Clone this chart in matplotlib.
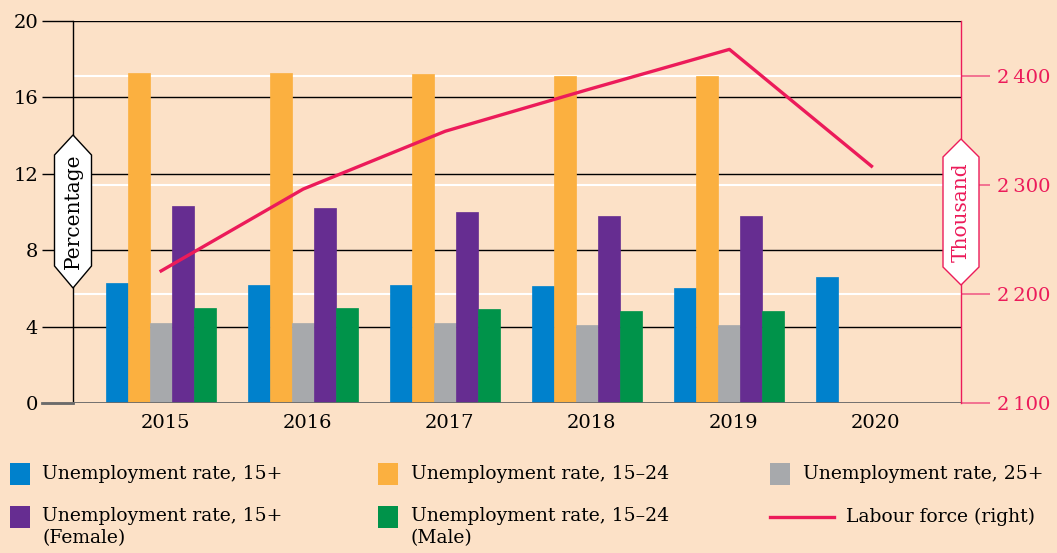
import matplotlib
matplotlib.use('Agg')
import matplotlib.pyplot as plt
import numpy as np
from matplotlib.patches import Polygon, Rectangle
from matplotlib.lines import Line2D

# data
years = ['2015', '2016', '2017', '2018', '2019', '2020']
rate_15 = [6.3, 6.2, 6.2, 6.1, 6.0, 6.6]
rate_15_24 = [17.3, 17.3, 17.2, 17.1, 17.1, np.nan]
rate_25 = [4.2, 4.2, 4.2, 4.1, 4.1, np.nan]
rate_female = [10.3, 10.2, 10.0, 9.8, 9.8, np.nan]
rate_male_15_24 = [5.0, 5.0, 4.9, 4.8, 4.8, np.nan]
labour_force = [2221, 2296, 2349, 2387, 2424, 2317]

series = [rate_15, rate_15_24, rate_25, rate_female, rate_male_15_24]
colors = ['#0081CC', '#FBB040', '#A7A9AC', '#662D91', '#00934A']
labels = ['Unemployment rate, 15+', 'Unemployment rate, 15\u201324', 'Unemployment rate, 25+',
          'Unemployment rate, 15+\n(Female)', 'Unemployment rate, 15\u201324\n(Male)', 'Labour force (right)']
pink = '#EC1B5A'
bg = '#FCE1C7'

W, H = 1057, 553
plt.rcParams['font.family'] = ['DejaVu Serif']
fig = plt.figure(figsize=(W / 100, H / 100), dpi=100)
fig.patch.set_facecolor(bg)

ax = fig.add_axes([73 / W, 150 / H, 888 / W, 382 / H])
ax.set_facecolor(bg)
ax2 = ax.twinx()

x = np.arange(len(years))
bw = 0.155
for i, (vals, c) in enumerate(zip(series, colors)):
    ax.bar(x + (i - 2) * bw, vals, bw, color=c, zorder=3, edgecolor=c, linewidth=0.5)

ax.set_xlim(-0.62, 5.63)
ax.set_ylim(0, 20)
ax.set_yticks([0, 4, 8, 12, 16, 20])
ax.set_xticks(x + 0.03)
ax.set_xticklabels(years)
ax.tick_params(axis='x', length=0, labelsize=14, pad=8)
ax.tick_params(axis='y', length=22, width=1, color='black', labelsize=14, pad=3, direction='out')
ax.yaxis.grid(True, color='black', linewidth=1, zorder=1)
ax.set_axisbelow(True)
for s in ['top', 'bottom', 'right']:
    ax.spines[s].set_visible(False)
ax.spines['left'].set_linewidth(1)
ax.axhline(0, color='#6b6b6b', linewidth=2, zorder=4)
# zero line continues left over the tick
ax.plot([-0.035, 0], [0, 0], transform=ax.get_yaxis_transform(), color='#6b6b6b',
        linewidth=2, clip_on=False, zorder=4)

ax2.plot(x, labour_force, color=pink, linewidth=2.4, zorder=5)
ax2.set_ylim(2100, 2450)
ax2.set_yticks([2100, 2200, 2300, 2400])
ax2.set_yticklabels(['2\u2009100', '2\u2009200', '2\u2009300', '2\u2009400'])
ax2.tick_params(axis='y', length=21, width=1.2, color='#F06088', labelcolor=pink, labelsize=14, pad=5)
for s in ['top', 'bottom', 'left']:
    ax2.spines[s].set_visible(False)
ax2.spines['right'].set_color(pink)
ax2.spines['right'].set_linewidth(1)
ax2.set_zorder(ax.get_zorder() + 1)
ax2.patch.set_visible(False)

# white gridlines for the right axis, behind the bars
for v in [2200, 2300, 2400]:
    ax.axhline((v - 2100) / 350 * 20, color='white', linewidth=1.5, zorder=2)


def fx(px):
    return px / W


def fy(py):
    return 1 - py / H


# axis label badges
def badge(cx, top, sh1, sh2, bot, half, text, ec, tc):
    pts = [(cx, top), (cx + half, sh1), (cx + half, sh2), (cx, bot), (cx - half, sh2), (cx - half, sh1)]
    poly = Polygon([(fx(a), fy(b)) for a, b in pts], closed=True, transform=fig.transFigure,
                   facecolor='white', edgecolor=ec, linewidth=1, zorder=10)
    fig.patches.append(poly)
    fig.text(fx(cx), fy((top + bot) / 2), text, rotation=90, ha='center', va='center',
             fontsize=14.5, color=tc, zorder=11)


badge(73, 135, 155, 266, 288, 18.5, 'Percentage', 'black', 'black')
badge(961, 139, 157, 267, 285, 18, 'Thousand', pink, pink)

# legend
legend_pos = [(10, 474), (378, 474), (770, 474), (10, 517), (378, 517)]
text_x = [42, 411, 803, 42, 411]
for (lx, ly), tx, c, lab in zip(legend_pos, text_x, colors, labels):
    fig.patches.append(Rectangle((fx(lx), fy(ly + 11)), 20 / W, 22 / H, transform=fig.transFigure,
                                 facecolor=c, edgecolor='none'))
    if '\n' in lab:
        fig.text(fx(tx), fy(ly - 10), lab, ha='left', va='top', fontsize=13.5, linespacing=1.3)
    else:
        fig.text(fx(tx), fy(ly), lab, ha='left', va='center', fontsize=13.5)

fig.lines.append(Line2D([fx(770), fx(834)], [fy(517), fy(517)], transform=fig.transFigure,
                        color=pink, linewidth=2.4))
fig.text(fx(846), fy(517), labels[5], ha='left', va='center', fontsize=13.5)

fig.savefig('out.png', dpi=100, facecolor=bg)
